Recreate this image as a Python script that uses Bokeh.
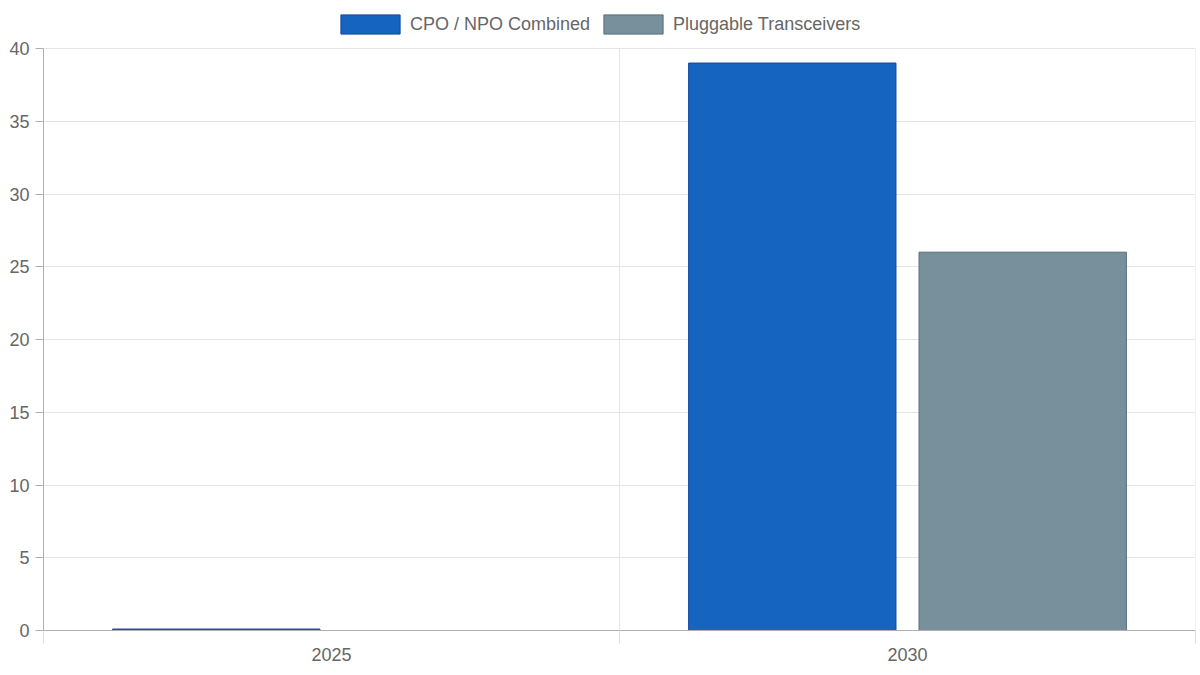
from bokeh.plotting import figure
from bokeh.models import (Range1d, LinearAxis, FixedTicker, Grid, Legend, LegendItem,
                          ColumnDataSource)
from bokeh.transform import dodge
from bokeh.embed import file_html
from bokeh.resources import INLINE

years = ["2025", "2030"]
cpo_npo = [0.1, 39]
pluggable = [float("nan"), 26]
series_names = ["CPO / NPO Combined", "Pluggable Transceivers"]
y_ticks = [0, 5, 10, 15, 20, 25, 30, 35, 40]

FONT = "Liberation Sans"
TXT = "#666666"
GRID = "#e5e5e5"
AXIS = "#b0b0b0"

n = len(years)
centers = [i + 0.5 for i in range(n)]
bounds = [float(i) for i in range(n + 1)]
y_max = y_ticks[-1]

# frame spans from 8px to 630px on the page; value axis 0..40 occupies 48..630
FRAME_TOP, AXIS_TOP, FRAME_BOTTOM = 8, 48, 630
y_end = y_max * (FRAME_BOTTOM - FRAME_TOP) / (FRAME_BOTTOM - AXIS_TOP)

source = ColumnDataSource(dict(xc=centers, cpo=cpo_npo, plug=pluggable))

p = figure(width=1200, height=675, x_range=Range1d(0, n), y_range=Range1d(0, y_end),
           output_backend="svg", toolbar_location=None,
           x_axis_location=None, y_axis_location=None,
           min_border_left=43, min_border_right=5, min_border_top=FRAME_TOP,
           min_border_bottom=675 - FRAME_BOTTOM)
p.outline_line_color = None
p.background_fill_color = "white"
p.border_fill_color = "white"
p.center = []

# y axis
yaxis = LinearAxis(ticker=FixedTicker(ticks=y_ticks), bounds=(0, y_max), axis_line_color=AXIS,
                   major_tick_line_color=AXIS, major_tick_out=8, major_tick_in=0,
                   minor_tick_line_color=None, major_label_text_font=FONT,
                   major_label_text_font_size="18px", major_label_text_color=TXT,
                   major_label_standoff=6)
p.add_layout(yaxis, "left")

# x axis: labels at category centers, tick marks at category boundaries
xaxis = LinearAxis(ticker=FixedTicker(ticks=centers, minor_ticks=bounds),
                   major_label_overrides={c: y for c, y in zip(centers, years)},
                   axis_line_color=AXIS, major_tick_line_color=None,
                   major_tick_out=0, major_tick_in=0,
                   minor_tick_line_color="#dddddd", minor_tick_out=13, minor_tick_in=0,
                   major_label_text_font=FONT, major_label_text_font_size="18px",
                   major_label_text_color=TXT, major_label_standoff=4)
p.add_layout(xaxis, "below")

p.add_layout(Grid(dimension=1, ticker=FixedTicker(ticks=y_ticks[1:]), grid_line_color=GRID))
# vertical grid lines at category boundaries, limited to the value axis
p.segment(x0=bounds, y0=[0] * len(bounds), x1=bounds, y1=[y_max] * len(bounds),
          line_color=GRID, line_width=1)

r1 = p.vbar(x=dodge("xc", -0.2), top="cpo", width=0.36, source=source,
            fill_color="#1565C0", line_color="#0D47A1", line_width=1)
r2 = p.vbar(x=dodge("xc", 0.2), top="plug", width=0.36, source=source,
            fill_color="#78909C", line_color="#546E7A", line_width=1)

legend = Legend(items=[LegendItem(label=series_names[0], renderers=[r1]),
                       LegendItem(label=series_names[1], renderers=[r2])],
                orientation="horizontal", location=(290, 594),
                glyph_width=74, glyph_height=24, label_standoff=3, spacing=6,
                label_text_font=FONT, label_text_font_size="18px", label_text_color=TXT,
                border_line_color=None, background_fill_alpha=0, padding=0, margin=0)
p.add_layout(legend, "center")

open("out.html", "w").write(file_html(p, INLINE))
